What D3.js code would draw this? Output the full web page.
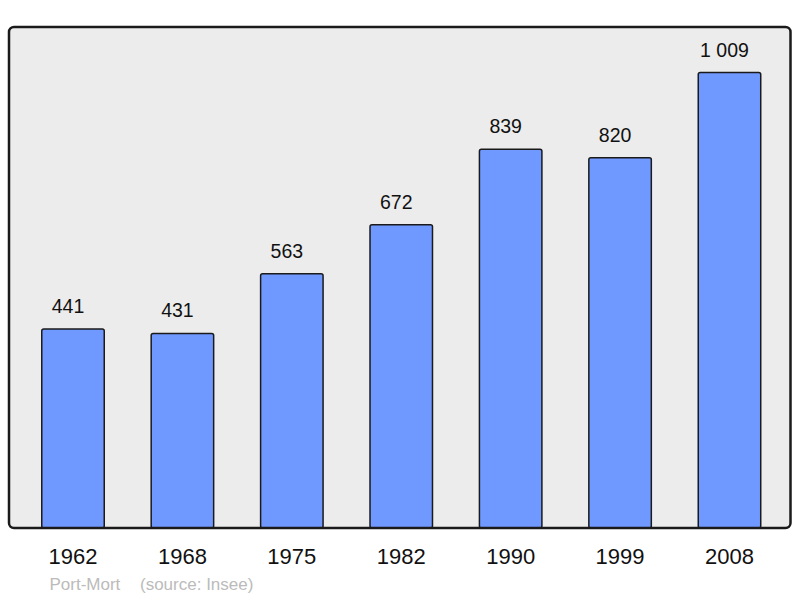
<!DOCTYPE html>
<html>
<head>
<meta charset="utf-8">
<script src="https://cdn.jsdelivr.net/npm/d3@7"></script>
<style>
  html, body { margin: 0; padding: 0; background: #ffffff; }
  svg { display: block; }
  text { font-family: "Liberation Sans", Arial, sans-serif; }
</style>
</head>
<body>
<svg id="chart" width="800" height="598"></svg>
<script>
const years = ["1962", "1968", "1975", "1982", "1990", "1999", "2008"];
const population = [441, 431, 563, 672, 839, 820, 1009];
const townName = "Port-Mort";
const sourceText = "(source: Insee)";

const W = 800, H = 598;
const frame = { left: 9, top: 27, right: 790.5, bottom: 528 };

const svg = d3.select("#chart");

const fmt = d3.formatLocale({ decimal: ",", thousands: "\u00a0", grouping: [3], currency: ["", ""] }).format(",d");

const x = d3.scaleBand()
  .domain(years)
  .range([18.3, 784.2])
  .paddingInner(0.429)
  .paddingOuter(0.2145);

const y = d3.scaleLinear()
  .domain([0, d3.max(population) * 1.1])
  .range([frame.bottom, frame.top]);

const data = years.map((yr, i) => ({ year: yr, value: population[i] }));

// background frame
svg.append("rect")
  .attr("x", frame.left)
  .attr("y", frame.top)
  .attr("width", frame.right - frame.left)
  .attr("height", frame.bottom - frame.top)
  .attr("rx", 5).attr("ry", 5)
  .attr("fill", "#ececec");

// bars
svg.append("g").selectAll("rect")
  .data(data)
  .join("rect")
  .attr("x", d => x(d.year))
  .attr("y", d => y(d.value))
  .attr("width", x.bandwidth())
  .attr("height", d => frame.bottom - y(d.value))
  .attr("rx", 2).attr("ry", 2)
  .attr("fill", "#7099ff")
  .attr("stroke", "#1a1a1a")
  .attr("stroke-width", 1.5);

// frame border on top
svg.append("rect")
  .attr("x", frame.left)
  .attr("y", frame.top)
  .attr("width", frame.right - frame.left)
  .attr("height", frame.bottom - frame.top)
  .attr("rx", 5).attr("ry", 5)
  .attr("fill", "none")
  .attr("stroke", "#1a1a1a")
  .attr("stroke-width", 2.5);

// value labels
svg.append("g").selectAll("text")
  .data(data)
  .join("text")
  .attr("x", d => x(d.year) + x.bandwidth() / 2 - 5)
  .attr("y", d => y(d.value) - 16)
  .attr("text-anchor", "middle")
  .attr("font-size", 19.5)
  .attr("fill", "#111")
  .text(d => fmt(d.value));

// year labels (axis)
const xAxis = d3.axisBottom(x).tickSize(0).tickPadding(0);
const axisG = svg.append("g")
  .attr("transform", `translate(0, 548)`)
  .call(xAxis);
axisG.select(".domain").remove();
axisG.selectAll("text")
  .attr("dy", null)
  .attr("y", 15.5)
  .attr("font-size", 22)
  .attr("font-family", "'Liberation Sans', Arial, sans-serif")
  .attr("fill", "#111");

// footer
svg.append("text")
  .attr("x", 49.5).attr("y", 590)
  .attr("font-size", 17)
  .attr("fill", "#bbbbbb")
  .text(townName);
svg.append("text")
  .attr("x", 140).attr("y", 590)
  .attr("font-size", 17)
  .attr("fill", "#bbbbbb")
  .text(sourceText);
</script>
</body>
</html>
